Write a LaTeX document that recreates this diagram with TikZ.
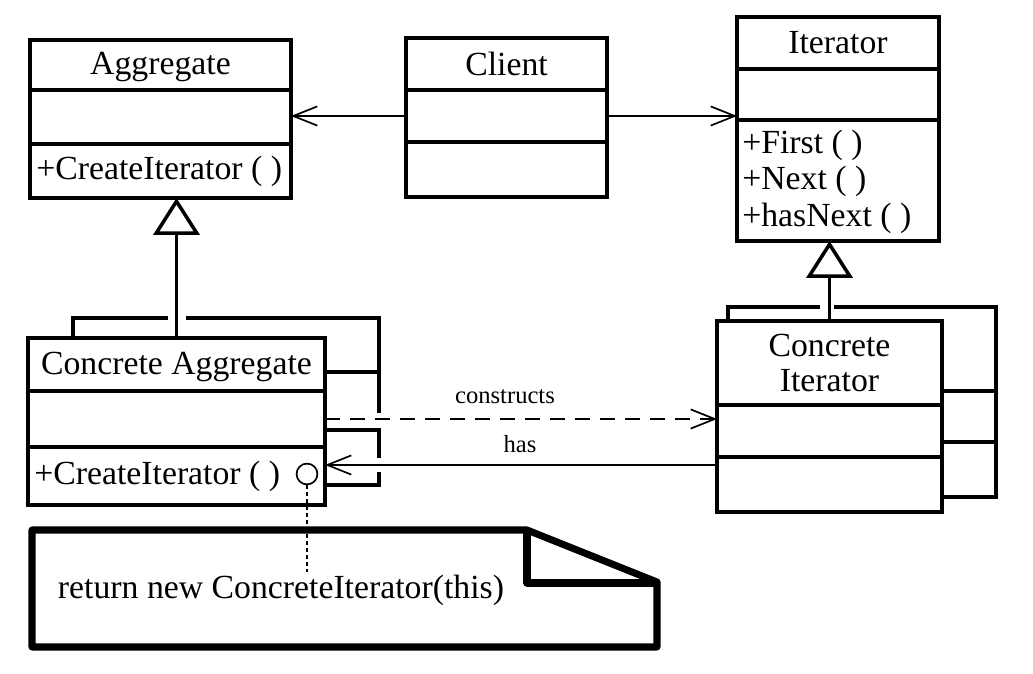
\documentclass[tikz,border=0pt]{standalone}
\usepackage{fontspec}
\setmainfont{Liberation Serif}
\usetikzlibrary{arrows.meta,calc}
\newcommand{\pxu}{0.025cm}
\tikzset{
  cls/.style={draw, line width=2.5pt, inner sep=0pt, outer sep=0pt,
    font=\fontsize{24}{25}\selectfont, align=center},
  ops/.style={inner sep=0pt, anchor=west, align=left,
    font=\fontsize{24}{26}\selectfont},
  assoc/.style={line width=1.2pt,
    -{Straight Barb[length=0.6cm, width=0.48cm, line width=1.2pt]}},
  inherit/.style={line width=2.5pt,
    -{Triangle[open, length=0.92cm, width=1.15cm, line width=2.5pt]}},
  shadow/.style={line width=2.5pt},
  note/.style={line width=5pt, line join=round},
  lbl/.style={inner sep=0pt, font=\fontsize{17.5}{20}\selectfont}
}
\begin{document}
\begin{tikzpicture}[x=\pxu, y=-\pxu]
  \useasboundingbox (0,0) rectangle (1033,674);

  % Aggregate
  \node[cls, minimum width=261*\pxu, minimum height=50*\pxu] (agg-n) at (160.5,65) {};
  \node (agg-l) at ($(agg-n)+(0,2)$) [inner sep=0pt, font=\fontsize{24}{25}\selectfont] {Aggregate};
  \node[cls, minimum width=261*\pxu, minimum height=54*\pxu] (agg-a) at (160.5,117) {};
  \node[cls, minimum width=261*\pxu, minimum height=54*\pxu] (agg-o) at (160.5,171) {};
  \node[ops] (agg-t) at ($(agg-o.west)+(6,0)$) {+CreateIterator ( )};

  % Client
  \node[cls, minimum width=201*\pxu, minimum height=52*\pxu] (cli-n) at (506.5,64) {Client};
  \node[cls, minimum width=201*\pxu, minimum height=52*\pxu] (cli-a) at (506.5,116) {};
  \node[cls, minimum width=201*\pxu, minimum height=55*\pxu] (cli-o) at (506.5,169.5) {};

  % Iterator
  \node[cls, minimum width=202*\pxu, minimum height=52*\pxu] (it-n) at (838,43) {Iterator};
  \node[cls, minimum width=202*\pxu, minimum height=51*\pxu] (it-a) at (838,94.5) {};
  \node[cls, minimum width=202*\pxu, minimum height=121*\pxu] (it-o) at (838,180.5) {};
  \node[ops] (it-t) at ($(it-o.west)+(5,1)$) {+First ( )\\+Next ( )\\+hasNext ( )};

  % Concrete Aggregate, with the shadow copies behind it
  \draw[shadow] (73,338) -- (73,318) -- (168,318);
  \draw[shadow] (186,318) -- (379,318) -- (379,413);
  \draw[shadow] (325,372) -- (379,372);
  \draw[shadow] (325,430) -- (379,430) -- (379,458);
  \draw[shadow] (379,472) -- (379,485) -- (325,485);
  \node[cls, fill=white, minimum width=297*\pxu, minimum height=53*\pxu] (ca-n) at (176.5,364.5) {};
  \node (ca-l) at ($(ca-n)+(0,2)$) [inner sep=0pt, font=\fontsize{24}{25}\selectfont] {Concrete Aggregate};
  \node[cls, minimum width=297*\pxu, minimum height=56*\pxu] (ca-a) at (176.5,419) {};
  \node[cls, minimum width=297*\pxu, minimum height=58*\pxu] (ca-o) at (176.5,476) {};
  \node[ops] (ca-t) at ($(ca-o.west)+(6,0)$) {+CreateIterator ( )};
  \node[draw, circle, line width=1.2pt, minimum size=0.52cm, inner sep=0pt] (ret) at (307,474) {};

  % Concrete Iterator, with the shadow copies behind it
  \draw[shadow] (728,321) -- (728,307) -- (820,307);
  \draw[shadow] (834,307) -- (996,307) -- (996,497) -- (942,497);
  \draw[shadow] (942,391) -- (996,391);
  \draw[shadow] (942,442) -- (996,442);
  \node[cls, fill=white, minimum width=225*\pxu, minimum height=84*\pxu] (ci-n) at (829.5,363) {Concrete\\Iterator};
  \node[cls, minimum width=225*\pxu, minimum height=52*\pxu] (ci-a) at (829.5,431) {};
  \node[cls, minimum width=225*\pxu, minimum height=55*\pxu] (ci-o) at (829.5,484.5) {};

  % associations
  \draw[assoc] (cli-a.west) -- (cli-a.west -| agg-a.east);
  \draw[assoc] (cli-a.east) -- (cli-a.east -| it-a.west);
  \draw[inherit] (ca-n.north) -- (ca-n.north |- agg-o.south);
  \draw[inherit] (ci-n.north) -- (ci-n.north |- it-o.south);

  \draw[assoc, dash pattern=on 0.375cm off 0.25cm] (ca-a.east) -- (ca-a.east -| ci-a.west);
  \node[lbl] (constructs) at (505,397) {constructs};
  \coordinate (has-start) at (717,465);
  \draw[assoc] (has-start) -- (has-start -| ca-o.east);
  \node[lbl] (has) at (520,444) {has};

  % note
  \draw[note] (32,530) -- (527,530) -- (657,582) -- (657,647) -- (32,647) -- cycle;
  \draw[note] (527,530) -- (527,583) -- (657,583);
  \node[font=\fontsize{24}{26}\selectfont, inner sep=0pt] (note-t) at (281,590) {return new ConcreteIterator(this)};
  \coordinate (note-hook) at (307,572);
  \draw[line width=1.2pt, dash pattern=on 0.1cm off 0.075cm] (ret) -- (note-hook);
\end{tikzpicture}
\end{document}
